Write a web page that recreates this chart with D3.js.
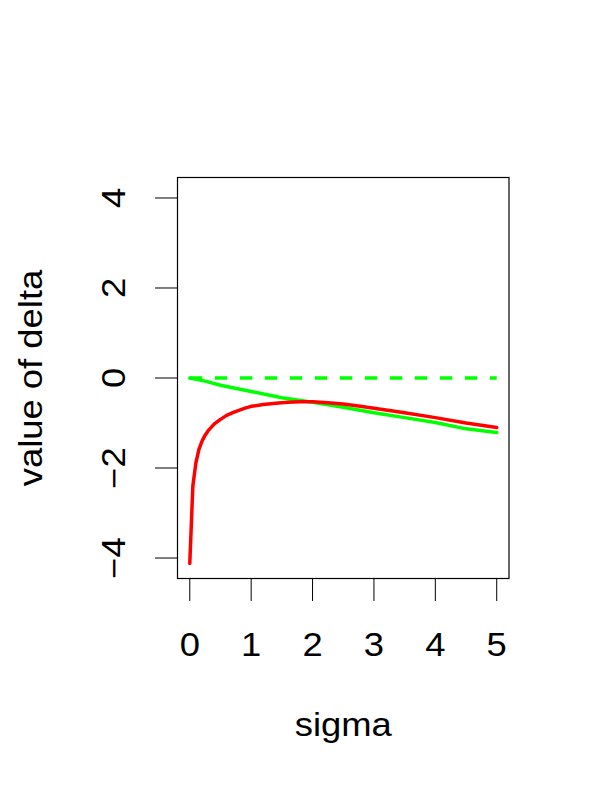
<!DOCTYPE html>
<html>
<head>
<meta charset="utf-8">
<script src="https://d3js.org/d3.v7.min.js"></script>
<style>
  body { margin: 0; background: #fff; }
  text { font-family: "Liberation Sans", Arial, Helvetica, sans-serif; fill: #000; }
</style>
</head>
<body>
<div id="chart"></div>
<script>
// red curve
const redSigma = [0, 0.05, 0.1, 0.15, 0.2, 0.25, 0.3, 0.4, 0.5, 0.6, 0.7, 0.8, 0.9, 1.0,
                  1.2, 1.4, 1.6, 1.8, 2.0, 2.25, 2.5, 2.75, 3.0, 3.5, 4.0, 4.5, 5.0];
const redDelta = [-4.12, -2.40, -1.88, -1.58, -1.40, -1.27, -1.17, -1.02, -0.92, -0.83, -0.77, -0.72, -0.67, -0.63,
                  -0.59, -0.56, -0.54, -0.53, -0.53, -0.55, -0.58, -0.62, -0.67, -0.77, -0.88, -1.00, -1.10];

// green solid curve
const greenSigma = [0, 0.25, 0.5, 1.0, 1.5, 2.0, 2.5, 3.0, 3.5, 4.0, 4.5, 5.0];
const greenDelta = [0, -0.07, -0.16, -0.30, -0.44, -0.54, -0.65, -0.77, -0.88, -0.99, -1.13, -1.21];

// green dashed reference line
const zeroSigma = [0, 5];
const zeroDelta = [0, 0];

const xTicks = [0, 1, 2, 3, 4, 5];
const yTicks = [-4, -2, 0, 2, 4];

const width = 600, height = 800;
const box = {left: 177.5, right: 509, top: 177.5, bottom: 578.5};
const fontSize = 32.5, stretch = 1.12;   // reference glyphs are a bit wider than Liberation Sans

// R-style 4% padding around the data range
const x = d3.scaleLinear().domain([-0.2, 5.2]).range([box.left, box.right]);
const y = d3.scaleLinear().domain([-4.455, 4.455]).range([box.bottom, box.top]);

const svg = d3.select("#chart").append("svg")
    .attr("width", width)
    .attr("height", height);

const line = d3.line().x(d => x(d[0])).y(d => y(d[1]));

const zip = (a, b) => a.map((v, i) => [v, b[i]]);

//  curves
svg.append("path")
    .datum(zip(zeroSigma, zeroDelta))
    .attr("d", line)
    .attr("fill", "none")
    .attr("stroke", "#00ff00")
    .attr("stroke-width", 3.5)
    .attr("stroke-dasharray", "12.5,12.5");

svg.append("path")
    .datum(zip(greenSigma, greenDelta))
    .attr("d", line)
    .attr("fill", "none")
    .attr("stroke", "#00ff00")
    .attr("stroke-width", 3.5)
    .attr("stroke-linejoin", "round")
    .attr("stroke-linecap", "round");

svg.append("path")
    .datum(zip(redSigma, redDelta))
    .attr("d", line)
    .attr("fill", "none")
    .attr("stroke", "#ff0000")
    .attr("stroke-width", 3.5)
    .attr("stroke-linejoin", "round")
    .attr("stroke-linecap", "round");

//  plot box
svg.append("rect")
    .attr("x", box.left)
    .attr("y", box.top)
    .attr("width", box.right - box.left)
    .attr("height", box.bottom - box.top)
    .attr("fill", "none")
    .attr("stroke", "#000")
    .attr("stroke-width", 1.2);

//  x axis: ticks hang off the box
const xAxis = svg.append("g");
xAxis.selectAll("line").data(xTicks).join("line")
    .attr("x1", d => x(d)).attr("x2", d => x(d))
    .attr("y1", box.bottom).attr("y2", 601)
    .attr("stroke", "#000");
xAxis.selectAll("text").data(xTicks).join("text")
    .attr("transform", d => `translate(${x(d)},656) scale(${stretch},1)`)
    .attr("text-anchor", "middle")
    .attr("font-size", fontSize)
    .text(d => d);

//  y axis
const yAxis = svg.append("g");
yAxis.selectAll("line").data(yTicks).join("line")
    .attr("x1", 155).attr("x2", box.left)
    .attr("y1", d => y(d)).attr("y2", d => y(d))
    .attr("stroke", "#000");
yAxis.selectAll("text").data(yTicks).join("text")
    .attr("transform", d => `translate(125,${y(d)}) rotate(-90) scale(${stretch},1)`)
    .attr("text-anchor", "middle")
    .attr("font-size", fontSize)
    .text(d => d < 0 ? "\u2212" + Math.abs(d) : d);

//  axis titles
svg.append("text")
    .attr("transform", `translate(${(box.left + box.right) / 2},736) scale(${stretch},1)`)
    .attr("text-anchor", "middle")
    .attr("font-size", fontSize)
    .text("sigma");

svg.append("text")
    .attr("transform", `translate(41.5,${(box.top + box.bottom) / 2}) rotate(-90) scale(${stretch},1)`)
    .attr("text-anchor", "middle")
    .attr("font-size", fontSize)
    .text("value of delta");
</script>
</body>
</html>
